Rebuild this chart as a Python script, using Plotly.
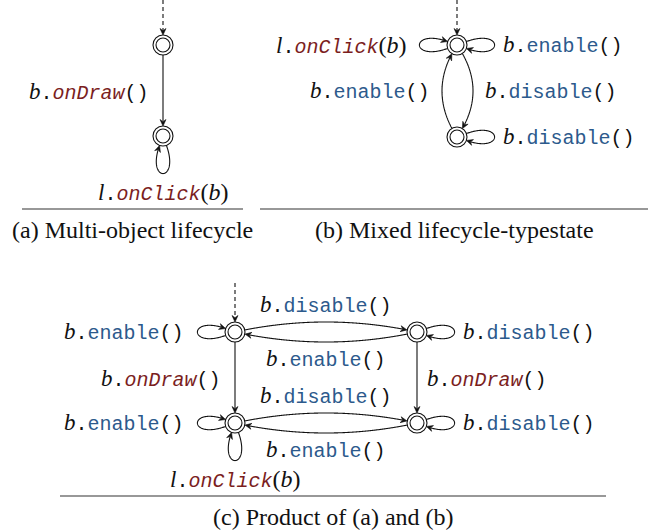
import math
import plotly.graph_objects as go

# ---------------- data ----------------
PANEL_CAPTIONS = ["(a) Multi-object lifecycle",
                  "(b) Mixed lifecycle-typestate",
                  "(c) Product of (a) and (b)"]

STATES_A = ["a0", "a1"]
STATES_B = ["b0", "b1"]
STATES_C = ["c00", "c01", "c10", "c11"]
INITIAL = ["a0", "b0", "c00"]

# transitions: (source, target, receiver, method, args)
EDGES_A = [("a0", "a1", "b", "onDraw", "()"),
           ("a1", "a1", "l", "onClick", "(b)")]
EDGES_B = [("b0", "b0", "l", "onClick", "(b)"),
           ("b0", "b0", "b", "enable", "()"),
           ("b0", "b1", "b", "disable", "()"),
           ("b1", "b0", "b", "enable", "()"),
           ("b1", "b1", "b", "disable", "()")]
EDGES_C = [("c00", "c00", "b", "enable", "()"),
           ("c00", "c01", "b", "disable", "()"),
           ("c01", "c00", "b", "enable", "()"),
           ("c01", "c01", "b", "disable", "()"),
           ("c00", "c10", "b", "onDraw", "()"),
           ("c01", "c11", "b", "onDraw", "()"),
           ("c10", "c10", "b", "enable", "()"),
           ("c10", "c10", "l", "onClick", "(b)"),
           ("c10", "c11", "b", "disable", "()"),
           ("c11", "c10", "b", "enable", "()"),
           ("c11", "c11", "b", "disable", "()")]
LIFECYCLE_METHODS = ["onDraw", "onClick"]

# ---------------- layout (positions / styles) ----------------
W, H = 652, 532
POS = {"a0": (163, 45), "a1": (163, 136),
       "b0": (457, 45), "b1": (457, 137),
       "c00": (235, 332), "c01": (417, 332),
       "c10": (235, 423), "c11": (417, 423)}
LOOP_DIR = {("a1", "onClick"): 90, ("b0", "onClick"): 180, ("b0", "enable"): 0,
            ("b1", "disable"): 0, ("c00", "enable"): 180, ("c01", "disable"): 0,
            ("c10", "enable"): 180, ("c10", "onClick"): 90, ("c11", "disable"): 0}
BULGE = {("b0", "b1"): 16, ("b1", "b0"): 15,
         ("c00", "c01"): 10, ("c01", "c00"): 10,
         ("c10", "c11"): 10, ("c11", "c10"): 10}
STRAIGHT_SIDE = {("a0", "a1"): -1, ("c00", "c10"): -1, ("c01", "c11"): 1}
INIT_START = {"a0": 0, "b0": 0, "c00": 283}
RULES = [(22, 243, 209), (260, 648, 209), (60, 606, 496)]
CAPTION_DY = 21

R_OUT, R_IN = 10, 7
LOOP_SPREAD, LOOP_D = 20, 40
SERIF = "Liberation Serif"
MONO = "Liberation Mono"
RED = "#7b1e1e"
BLUE = "#2c5a8c"
INK = "#111111"
LW = 1.1

shapes = []
annotations = []


def unit(deg):
    a = math.radians(deg)
    return math.cos(a), math.sin(a)


def arrowhead(tip, d):
    L, w, notch = 6.5, 3.0, 4.3
    nx, ny = -d[1], d[0]
    bx, by = tip[0] - L * d[0], tip[1] - L * d[1]
    p1 = (bx + w * nx, by + w * ny)
    p2 = (tip[0] - notch * d[0], tip[1] - notch * d[1])
    p3 = (bx - w * nx, by - w * ny)
    path = "M {:.2f},{:.2f} L {:.2f},{:.2f} L {:.2f},{:.2f} L {:.2f},{:.2f} Z".format(
        tip[0], tip[1], p1[0], p1[1], p2[0], p2[1], p3[0], p3[1])
    shapes.append(dict(type="path", path=path, xref="x", yref="y",
                       fillcolor=INK, line=dict(width=0.6, color=INK)))


def draw_polyline(pts, arrow=True):
    tip = pts[-1]
    k = len(pts) - 1
    while k > 0 and math.dist(pts[k], tip) < 4:
        k -= 1
    dx, dy = tip[0] - pts[k][0], tip[1] - pts[k][1]
    n = math.hypot(dx, dy)
    d = (dx / n, dy / n)
    if arrow:
        body = [p for p in pts if math.dist(p, tip) >= 4.5]
        body.append((tip[0] - 4.5 * d[0], tip[1] - 4.5 * d[1]))
    else:
        body = pts
    path = "M " + " L ".join("{:.2f},{:.2f}".format(x, y) for x, y in body)
    shapes.append(dict(type="path", path=path, xref="x", yref="y",
                       line=dict(width=LW, color=INK)))
    if arrow:
        arrowhead(tip, d)


def cubic(p0, p1, p2, p3, n=160):
    out = []
    for i in range(n + 1):
        t = i / n
        a, b, c, e = (1 - t) ** 3, 3 * (1 - t) ** 2 * t, 3 * (1 - t) * t ** 2, t ** 3
        out.append((a * p0[0] + b * p1[0] + c * p2[0] + e * p3[0],
                    a * p0[1] + b * p1[1] + c * p2[1] + e * p3[1]))
    return out


def label_html(recv, method, args):
    life = method in LIFECYCLE_METHODS
    color = RED if life else BLUE
    s = "<span style='font-family:{};font-style:italic;font-size:23px'>{}</span>".format(SERIF, recv)
    s += "<span style='font-family:{}'>.</span>".format(MONO)
    s += "<span style='font-family:{};font-style:{};fill:{}'>{}</span>".format(
        MONO, "italic" if life else "normal", color, method)
    if args == "()":
        s += "<span style='font-family:{}'>()</span>".format(MONO)
    else:
        inner = args.strip("()")
        s += ("<span style='font-family:{f};font-size:24px'>(</span>"
              "<span style='font-family:{f};font-style:italic;font-size:24px'>{i}</span>"
              "<span style='font-family:{f};font-size:24px'>)</span>").format(f=SERIF, i=inner)
    return s


def add_label(text, x, y, xanchor):
    annotations.append(dict(text=text, x=x, y=y, xref="x", yref="y",
                            xanchor=xanchor, yanchor="middle", showarrow=False,
                            font=dict(family=MONO, size=20, color=INK)))


def draw_edges(edges):
    for src, tgt, recv, method, args in edges:
        text = label_html(recv, method, args)
        c = POS[src]
        if src == tgt:
            base = LOOP_DIR[(src, method)]
            ts, te = base - LOOP_SPREAD, base + LOOP_SPREAD
            us, ue = unit(ts), unit(te)
            S = (c[0] + R_OUT * us[0], c[1] + R_OUT * us[1])
            E = (c[0] + R_OUT * ue[0], c[1] + R_OUT * ue[1])
            C1 = (S[0] + LOOP_D * us[0], S[1] + LOOP_D * us[1])
            C2 = (E[0] + LOOP_D * ue[0], E[1] + LOOP_D * ue[1])
            draw_polyline(cubic(S, C1, C2, E))
            if base == 0:
                add_label(text, c[0] + 44, c[1], "left")
            elif base == 180:
                add_label(text, c[0] - 49, c[1], "right")
            else:
                add_label(text, c[0], c[1] + 56, "center")
            continue
        t = POS[tgt]
        dx, dy = t[0] - c[0], t[1] - c[1]
        L = math.hypot(dx, dy)
        d = (dx / L, dy / L)
        n = (-d[1], d[0])
        mid = ((c[0] + t[0]) / 2, (c[1] + t[1]) / 2)
        if (src, tgt) in BULGE:
            b = BULGE[(src, tgt)]
            ctrl = (mid[0] - 2 * b * n[0], mid[1] - 2 * b * n[1])
            C1 = (c[0] + 2 / 3 * (ctrl[0] - c[0]), c[1] + 2 / 3 * (ctrl[1] - c[1]))
            C2 = (t[0] + 2 / 3 * (ctrl[0] - t[0]), t[1] + 2 / 3 * (ctrl[1] - t[1]))
            pts = cubic(c, C1, C2, t, 400)
            pts = [p for p in pts if math.dist(p, c) >= R_OUT and math.dist(p, t) >= R_OUT]
            draw_polyline(pts)
            bn = (-n[0], -n[1])
            if abs(bn[0]) > abs(bn[1]):
                gx = b + 10
                add_label(text, mid[0] + bn[0] * gx, mid[1],
                          "left" if bn[0] > 0 else "right")
            else:
                gy = b + 17
                add_label(text, mid[0], mid[1] + bn[1] * gy, "center")
        else:
            S = (c[0] + R_OUT * d[0], c[1] + R_OUT * d[1])
            E = (t[0] - R_OUT * d[0], t[1] - R_OUT * d[1])
            draw_polyline([S, E])
            side = STRAIGHT_SIDE[(src, tgt)]
            if side < 0:
                add_label(text, mid[0] - 12, mid[1] + 1, "right")
            else:
                add_label(text, mid[0] + 8, mid[1] + 1, "left")


def draw_states(states):
    for s in states:
        x, y = POS[s]
        for r in (R_OUT, R_IN):
            shapes.append(dict(type="circle", xref="x", yref="y",
                               x0=x - r, x1=x + r, y0=y - r, y1=y + r,
                               fillcolor="white", line=dict(width=LW, color=INK)))


for s in INITIAL:
    x, y = POS[s]
    shapes.append(dict(type="line", xref="x", yref="y", x0=x, x1=x,
                       y0=INIT_START[s], y1=y - R_OUT - 4,
                       line=dict(width=LW, color=INK, dash="4px,3px")))
    arrowhead((x, y - R_OUT), (0.0, 1.0))

draw_edges(EDGES_A)
draw_edges(EDGES_B)
draw_edges(EDGES_C)
draw_states(STATES_A + STATES_B + STATES_C)

for (x0, x1, y), cap in zip(RULES, PANEL_CAPTIONS):
    shapes.append(dict(type="line", xref="x", yref="y", x0=x0, x1=x1, y0=y, y1=y,
                       line=dict(width=1.2, color="#333333")))
    annotations.append(dict(text=cap, x=(x0 + x1) / 2, y=y + CAPTION_DY,
                            xref="x", yref="y", xanchor="center", yanchor="middle",
                            showarrow=False,
                            font=dict(family=SERIF, size=24, color=INK)))

fig = go.Figure()
fig.update_layout(
    width=W, height=H,
    margin=dict(l=0, r=0, t=0, b=0),
    paper_bgcolor="white", plot_bgcolor="white",
    xaxis=dict(range=[0, W], visible=False, fixedrange=True),
    yaxis=dict(range=[H, 0], visible=False, fixedrange=True),
    shapes=shapes, annotations=annotations, showlegend=False,
)
fig.write_html("out.html", config={"displayModeBar": False},
               post_script="document.body.style.margin='0px';")
